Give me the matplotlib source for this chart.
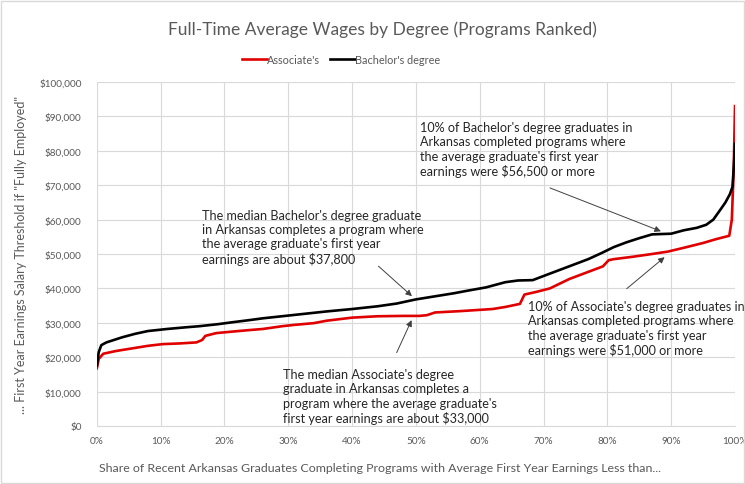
import matplotlib.pyplot as plt
from matplotlib.patches import Rectangle
from matplotlib.ticker import FuncFormatter, MultipleLocator

# share of graduates (%) and average first-year earnings ($)
bach_pct = [0, 0.3, 0.7, 1.5, 2.5, 4, 6, 8, 11, 14, 16, 19, 21, 24, 26, 29, 31,
            34, 36, 40, 44, 47, 50, 52, 56, 58, 61, 64, 66, 68.3, 70, 72, 74,
            77, 79, 81, 83, 85, 87, 90, 92, 94, 95.5, 96.6, 97.6, 98.5, 99.2,
            99.6, 99.8, 100]
bach_wage = [17500, 21500, 23500, 24300, 24900, 25800, 26800, 27600, 28200,
             28700, 29000, 29600, 30100, 30800, 31300, 31900, 32300, 32900,
             33300, 34000, 34800, 35600, 36800, 37400, 38600, 39300, 40300,
             41800, 42300, 42400, 43600, 45000, 46400, 48500, 50200, 52000,
             53400, 54600, 55700, 55900, 56900, 57600, 58500, 60000, 62600,
             65000, 67400, 69500, 75000, 82000]

assoc_pct = [0, 0.3, 1, 3, 5, 8, 10.3, 13, 15.6, 16.5, 17, 18.7, 21, 24, 26, 29,
             31, 34, 36, 40, 44, 48, 50.5, 51.7, 53, 57, 62, 64, 66.3, 67, 68.9,
             71, 74, 77, 79.3, 80.2, 81, 84, 87, 89.5, 92.4, 95, 97, 99.1, 99.5,
             99.8, 100]
assoc_wage = [16800, 19500, 21000, 21800, 22400, 23300, 23800, 24000, 24300,
              25000, 26200, 27000, 27400, 27900, 28200, 29000, 29400, 29900,
              30600, 31500, 31900, 32000, 32000, 32200, 33000, 33400, 34000,
              34600, 35500, 38200, 39000, 40000, 42700, 44800, 46400, 48200,
              48500, 49200, 50000, 50700, 52000, 53200, 54300, 55300, 60000,
              75000, 93000]

plt.rcParams["font.family"] = ["Lato", "DejaVu Sans"]

fig = plt.figure(figsize=(7.45, 4.85), dpi=100)
ax = fig.add_axes([0.130, 0.1196, 0.8566, 0.7093])

ax.plot(assoc_pct, assoc_wage, color="#e00000", lw=1.9, label="Associate's")
ax.plot(bach_pct, bach_wage, color="black", lw=1.9, label="Bachelor's degree")

ax.set_xlim(0, 100)
ax.set_ylim(0, 100000)
ax.xaxis.set_major_locator(MultipleLocator(10))
ax.yaxis.set_major_locator(MultipleLocator(10000))
ax.xaxis.set_major_formatter(FuncFormatter(lambda v, p: f"{v:.0f}%"))
ax.yaxis.set_major_formatter(FuncFormatter(lambda v, p: f"${v:,.0f}"))
ax.grid(True, color="#d9d9d9", lw=0.8)
ax.set_axisbelow(True)
for s in ["top", "right", "left"]:
    ax.spines[s].set_visible(False)
ax.spines["bottom"].set_color("#d9d9d9")
ax.tick_params(length=0, labelsize=7.2, labelcolor="#595959")
ax.tick_params(axis="x", pad=7)
ax.tick_params(axis="y", pad=11)

ax.set_xlabel("Share of Recent Arkansas Graduates Completing Programs with "
              "Average First Year Earnings Less than...",
              fontsize=8.9, color="#595959")
ax.xaxis.set_label_coords(0.443, -0.105)
ax.set_ylabel('... First Year Earnings Salary Threshold if "Fully Employed"',
              fontsize=9, color="#595959", labelpad=9)

fig.text(0.513, 0.938, "Full-Time Average Wages by Degree (Programs Ranked)",
         ha="center", va="center", fontsize=12.5, color="#595959")
fig.legend(loc="center", bbox_to_anchor=(0.458, 0.876), ncol=2, frameon=False,
           fontsize=7.8, handlelength=2.3, columnspacing=0.9, handletextpad=0.05,
           labelcolor="#595959")

arrow = dict(arrowstyle="-|>", color="#404040", lw=0.7, mutation_scale=9)
note = dict(fontsize=9.1, color="#262626", ha="left", va="top", linespacing=1.24)

ax.annotate("The median Bachelor's degree graduate\n"
            "in Arkansas completes a program where\n"
            "the average graduate's first year\n"
            "earnings are about $37,800",
            xy=(49.7, 37200), xytext=(16.4, 63200), **note)
ax.annotate("", xy=(49.7, 37200), xytext=(43.8, 47000), arrowprops=arrow)

ax.annotate("10% of Bachelor's degree graduates in\n"
            "Arkansas completed programs where\n"
            "the average graduate's first year\n"
            "earnings were $56,500 or more",
            xy=(88.8, 56300), xytext=(50.6, 88700), **note)
ax.annotate("", xy=(88.8, 56300), xytext=(70.6, 69500), arrowprops=arrow)

ax.annotate("10% of Associate's degree graduates in\n"
            "Arkansas completed programs where\n"
            "the average graduate's first year\n"
            "earnings were $51,000 or more",
            xy=(89.3, 49600), xytext=(67.6, 36700), **note)
ax.annotate("", xy=(89.3, 49600), xytext=(82.7, 39400), arrowprops=arrow)

ax.annotate("The median Associate's degree\n"
            "graduate in Arkansas completes a\n"
            "program where the average graduate's\n"
            "first year earnings are about $33,000",
            xy=(49.5, 31500), xytext=(29.2, 16900), **note)
ax.annotate("", xy=(49.5, 31500), xytext=(46.8, 20600), arrowprops=arrow)

fig.patches.append(Rectangle((0.002, 0.002), 0.996, 0.994, transform=fig.transFigure,
                             fill=False, edgecolor="#d9d9d9", lw=1))

fig.savefig("out.png", dpi=100)
